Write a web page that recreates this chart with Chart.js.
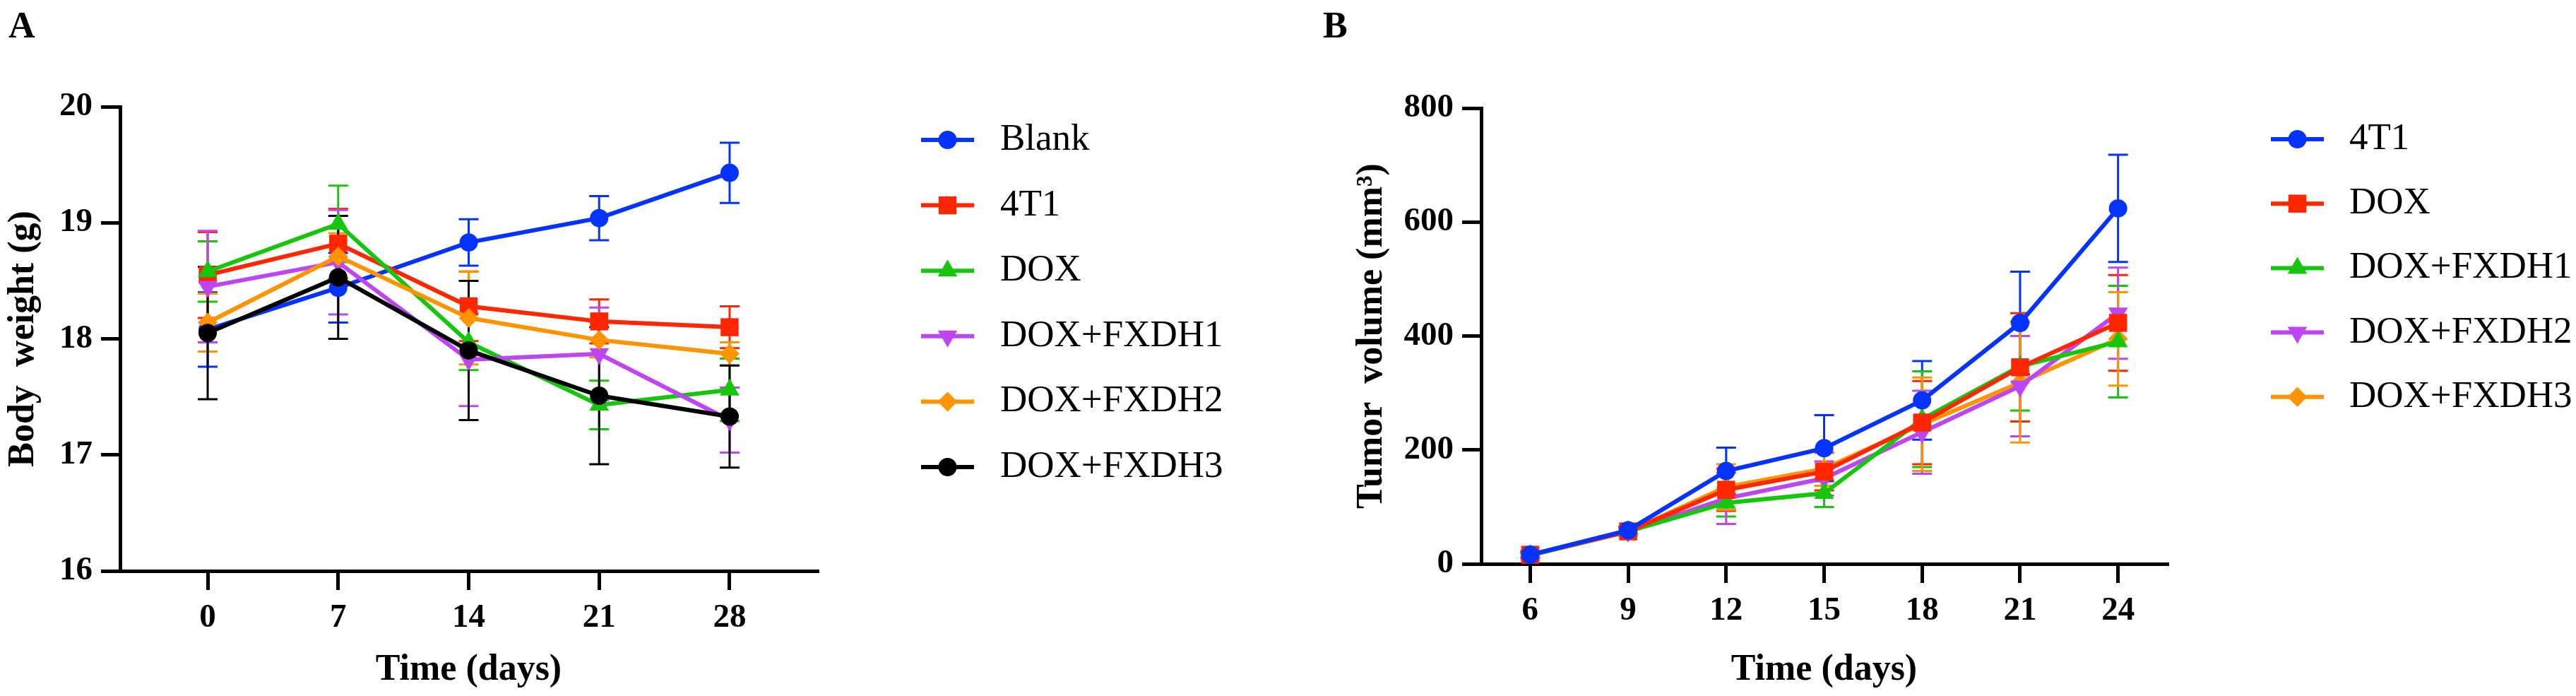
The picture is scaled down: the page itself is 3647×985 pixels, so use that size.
<!DOCTYPE html>
<html>
<head>
<meta charset="utf-8">
<script src="https://cdn.jsdelivr.net/npm/chart.js@4.4.1/dist/chart.umd.min.js"></script>
<style>
  html, body { margin: 0; padding: 0; background: #fff; }
  body { width: 3647px; height: 985px; position: relative; overflow: hidden; }
  canvas { position: absolute; top: 0; }
  #weightChart { left: 0; }
  #volumeChart { left: 1820px; }
</style>
</head>
<body>
<canvas id="weightChart" width="1820" height="985"></canvas>
<canvas id="volumeChart" width="1827" height="985"></canvas>
<script>
// --- Panel A: body weight (g) ---
const weightDays = [0, 7, 14, 21, 28];
const weightTicks = [16, 17, 18, 19, 20];
const weightGroups = ['Blank', '4T1', 'DOX', 'DOX+FXDH1', 'DOX+FXDH2', 'DOX+FXDH3'];
const blankWeight = [18.08, 18.44, 18.83, 19.04, 19.43];
const blankWeightSd = [0.32, 0.30, 0.20, 0.19, 0.26];
const t1Weight = [18.55, 18.82, 18.28, 18.15, 18.10];
const t1WeightSd = [0.37, 0.30, 0.30, 0.19, 0.18];
const doxWeight = [18.58, 18.99, 17.97, 17.43, 17.56];
const doxWeightSd = [0.26, 0.33, 0.24, 0.21, 0.27];
const fxdh1Weight = [18.45, 18.66, 17.82, 17.87, 17.30];
const fxdh1WeightSd = [0.48, 0.45, 0.40, 0.40, 0.28];
const fxdh2Weight = [18.14, 18.71, 18.18, 17.99, 17.87];
const fxdh2WeightSd = [0.25, 0.20, 0.40, 0.15, 0.10];
const fxdh3Weight = [18.05, 18.53, 17.90, 17.51, 17.33];
const fxdh3WeightSd = [0.57, 0.53, 0.60, 0.59, 0.44];

// --- Panel B: tumor volume (mm3) ---
const volumeDays = [6, 9, 12, 15, 18, 21, 24];
const volumeTicks = [0, 200, 400, 600, 800];
const volumeGroups = ['4T1', 'DOX', 'DOX+FXDH1', 'DOX+FXDH2', 'DOX+FXDH3'];
const t1Volume = [16, 59, 163, 203, 287, 423, 624];
const t1VolumeSd = [5, 6, 41, 58, 69, 90, 94];
const doxVolume = [16, 57, 130, 162, 248, 345, 423];
const doxVolumeSd = [6, 5, 37, 33, 73, 95, 84];
const fxdh1Volume = [15, 57, 107, 124, 254, 347, 390];
const fxdh1VolumeSd = [4, 5, 24, 24, 84, 78, 98];
const fxdh2Volume = [15, 57, 115, 150, 231, 312, 440];
const fxdh2VolumeSd = [4, 5, 45, 30, 73, 88, 80];
const fxdh3Volume = [15, 57, 135, 167, 245, 318, 395];
const fxdh3VolumeSd = [4, 5, 40, 30, 82, 105, 82];

const BLUE = '#0433ff', RED = '#ff2600', GREEN = '#16c60c',
      PURPLE = '#bd45f2', ORANGE = '#ff9300', BLACK = '#000000';
const SERIF = '"Liberation Serif", "Times New Roman", serif';

// marker: [pointStyle, radius, rotation]
const CIRCLE = ['circle', 13, 0], SQUARE = ['rect', 18, 0], TRI_UP = ['triangle', 16, 0],
      TRI_DOWN = ['triangle', 16, 180], DIAMOND = ['rectRot', 14, 0];

function makeSet(label, days, mean, sd, color, marker, order) {
  return {
    label: label,
    data: days.map((d, i) => ({ x: d, y: mean[i] })),
    errors: sd,
    borderColor: color,
    backgroundColor: color,
    borderWidth: 6,
    pointStyle: marker[0],
    pointRadius: marker[1],
    pointHoverRadius: marker[1],
    pointRotation: marker[2],
    pointBorderWidth: 0,
    tension: 0,
    fill: false,
    order: order
  };
}

// error bars (mean +/- sd) behind the lines
const errorBars = {
  id: 'errorBars',
  beforeDatasetsDraw(chart) {
    const ctx = chart.ctx;
    const xs = chart.scales.x, ys = chart.scales.y;
    chart.data.datasets.forEach(ds => {
      ctx.save();
      ctx.strokeStyle = ds.borderColor;
      ctx.lineWidth = 3;
      ds.data.forEach((p, j) => {
        const px = xs.getPixelForValue(p.x);
        const top = ys.getPixelForValue(p.y + ds.errors[j]);
        const bot = ys.getPixelForValue(p.y - ds.errors[j]);
        ctx.beginPath();
        ctx.moveTo(px, top); ctx.lineTo(px, bot);
        ctx.moveTo(px - 14, top); ctx.lineTo(px + 14, top);
        ctx.moveTo(px - 14, bot); ctx.lineTo(px + 14, bot);
        ctx.stroke();
      });
      ctx.restore();
    });
  }
};

// legend at the right: line + marker + name
const sideLegend = {
  id: 'sideLegend',
  afterDraw(chart, args, opts) {
    const ctx = chart.ctx;
    chart.data.datasets.forEach((ds, i) => {
      const y = opts.top + i * opts.gap;
      ctx.save();
      ctx.strokeStyle = ds.borderColor;
      ctx.lineWidth = ds.borderWidth;
      ctx.beginPath();
      ctx.moveTo(opts.x, y);
      ctx.lineTo(opts.x + opts.len, y);
      ctx.stroke();
      ctx.fillStyle = ds.backgroundColor;
      Chart.helpers.drawPoint(ctx, {
        pointStyle: ds.pointStyle, radius: ds.pointRadius,
        rotation: ds.pointRotation, borderWidth: 0
      }, opts.x + opts.len / 2, y);
      ctx.fillStyle = '#000';
      ctx.font = 'normal 400 53px ' + SERIF;
      ctx.textBaseline = 'middle';
      ctx.textAlign = 'left';
      ctx.fillText(ds.label, opts.textX, y);
      ctx.restore();
    });
  }
};

const panelLabel = {
  id: 'panelLabel',
  afterDraw(chart, args, opts) {
    const ctx = chart.ctx;
    ctx.save();
    ctx.fillStyle = '#000';
    ctx.font = 'bold 52px ' + SERIF;
    ctx.textBaseline = 'alphabetic';
    ctx.fillText(opts.text, opts.x, opts.y);
    ctx.restore();
  }
};

function axis(min, max, ticks, title, titlePad, fit) {
  return {
    type: 'linear',
    min: min,
    max: max,
    afterBuildTicks: s => { s.ticks = ticks.map(v => ({ value: v })); },
    afterFit: fit,
    border: { display: true, color: '#000', width: 5 },
    grid: { display: true, drawOnChartArea: false, drawTicks: true, tickLength: 27, lineWidth: 5, color: '#000' },
    ticks: { autoSkip: false, maxRotation: 0, color: '#000', padding: 12,
             font: { family: SERIF, weight: 'bold', size: 47 } },
    title: { display: true, text: title, color: '#000', padding: titlePad,
             font: { family: SERIF, weight: 'bold', size: 52 } }
  };
}

const weightColors = [BLUE, RED, GREEN, PURPLE, ORANGE, BLACK];
const weightMarkers = [CIRCLE, SQUARE, TRI_UP, TRI_DOWN, DIAMOND, CIRCLE];
const weightMeans = [blankWeight, t1Weight, doxWeight, fxdh1Weight, fxdh2Weight, fxdh3Weight];
const weightSds = [blankWeightSd, t1WeightSd, doxWeightSd, fxdh1WeightSd, fxdh2WeightSd, fxdh3WeightSd];

new Chart(document.getElementById('weightChart'), {
  type: 'line',
  data: {
    datasets: weightGroups.map((g, i) =>
      makeSet(g, weightDays, weightMeans[i], weightSds[i], weightColors[i], weightMarkers[i], -i))
  },
  options: {
    responsive: false, animation: false, devicePixelRatio: 1, events: [],
    layout: { padding: { left: 0, right: 663, top: 151, bottom: 0 } },
    plugins: {
      legend: { display: false }, tooltip: { enabled: false },
      sideLegend: { x: 1304, len: 75, textX: 1416, top: 198, gap: 92.6 },
      panelLabel: { text: 'A', x: 12, y: 53 }
    },
    scales: {
      x: axis(-4.7, 32.7, weightDays, 'Time (days)', { top: 0, bottom: 5 }, s => { s.height = 177; }),
      y: axis(16, 20, weightTicks, 'Body  weight (g)', { top: 2, bottom: 0 }, s => { s.width = 170; })
    }
  },
  plugins: [errorBars, sideLegend, panelLabel]
});

const volumeColors = [BLUE, RED, GREEN, PURPLE, ORANGE];
const volumeMarkers = [CIRCLE, SQUARE, TRI_UP, TRI_DOWN, DIAMOND];
const volumeMeans = [t1Volume, doxVolume, fxdh1Volume, fxdh2Volume, fxdh3Volume];
const volumeSds = [t1VolumeSd, doxVolumeSd, fxdh1VolumeSd, fxdh2VolumeSd, fxdh3VolumeSd];

new Chart(document.getElementById('volumeChart'), {
  type: 'line',
  data: {
    datasets: volumeGroups.map((g, i) =>
      makeSet(g, volumeDays, volumeMeans[i], volumeSds[i], volumeColors[i], volumeMarkers[i], 0))
  },
  options: {
    responsive: false, animation: false, devicePixelRatio: 1, events: [],
    layout: { padding: { left: 90, right: 579, top: 153, bottom: 0 } },
    plugins: {
      legend: { display: false }, tooltip: { enabled: false },
      sideLegend: { x: 1395, len: 75, textX: 1506, top: 197, gap: 91.2 },
      panelLabel: { text: 'B', x: 53, y: 53 }
    },
    scales: {
      x: axis(4.5, 25.5, volumeDays, 'Time (days)', { top: 0, bottom: 5 }, s => { s.height = 187; }),
      y: axis(0, 800, volumeTicks, 'Tumor  volume (mm³)', { top: 1, bottom: 0 }, s => { s.width = 187; })
    }
  },
  plugins: [errorBars, sideLegend, panelLabel]
});
</script>
</body>
</html>
